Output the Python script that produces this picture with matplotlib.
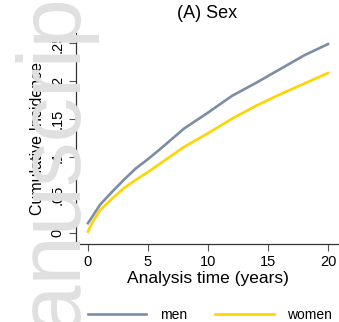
import matplotlib.pyplot as plt

plt.rcParams["font.family"] = ["Liberation Sans", "DejaVu Sans"]

# Cumulative incidence
years = [0, 0.3, 1, 2, 3, 4, 5, 6, 8, 10, 12, 14, 16, 18, 20]
men = [0.013, 0.020, 0.037, 0.054, 0.070, 0.085, 0.097, 0.110,
       0.137, 0.158, 0.180, 0.197, 0.215, 0.233, 0.248]
women = [0.002, 0.012, 0.030, 0.045, 0.059, 0.070, 0.080, 0.091,
         0.113, 0.131, 0.150, 0.167, 0.182, 0.196, 0.210]

xticks = [0, 5, 10, 15, 20]
yticks = [0, 0.05, 0.1, 0.15, 0.2, 0.25]
ytick_labels = ["0", ".05", ".1", ".15", ".2", ".25"]

fig = plt.figure(figsize=(3.39, 3.22), dpi=100)

# faint "manuscript" watermark along the left edge
fig.text(0.221, -0.25, "manuscript", rotation=90, rotation_mode="anchor",
         ha="left", va="baseline", fontsize=64, color="#e0e0e0", zorder=0)

ax = fig.add_axes([0.224, 0.242, 0.776, 0.6555])
ax.plot(years, men, color="#7b8ea6", lw=1.9, label="men")
ax.plot(years, women, color="#ffd400", lw=1.9, label="women")

ax.set_xlim(-1, 20.92)
ax.set_ylim(-0.0144, 0.2625)
ax.set_xticks(xticks)
ax.set_yticks(yticks)
ax.set_yticklabels(ytick_labels, rotation=90, va="center")
ax.tick_params(length=5, width=0.8, color="#555555", labelsize=10.5, pad=3)

for side in ["top", "right"]:
    ax.spines[side].set_visible(False)
for side in ["left", "bottom"]:
    ax.spines[side].set_color("#333333")
    ax.spines[side].set_linewidth(0.9)

ax.set_xlabel("Analysis time (years)", fontsize=12.5, labelpad=1)
ax.set_ylabel("Cumulative Incidence", fontsize=11.5, labelpad=4)
fig.text(0.61, 0.957, "(A) Sex", ha="center", va="center", fontsize=13)

fig.legend(loc="center", bbox_to_anchor=(0.62, 0.022), ncol=2, frameon=False,
           fontsize=10, handlelength=4.2, handletextpad=1.0, columnspacing=2.0)

fig.savefig("out.png", dpi=100)
